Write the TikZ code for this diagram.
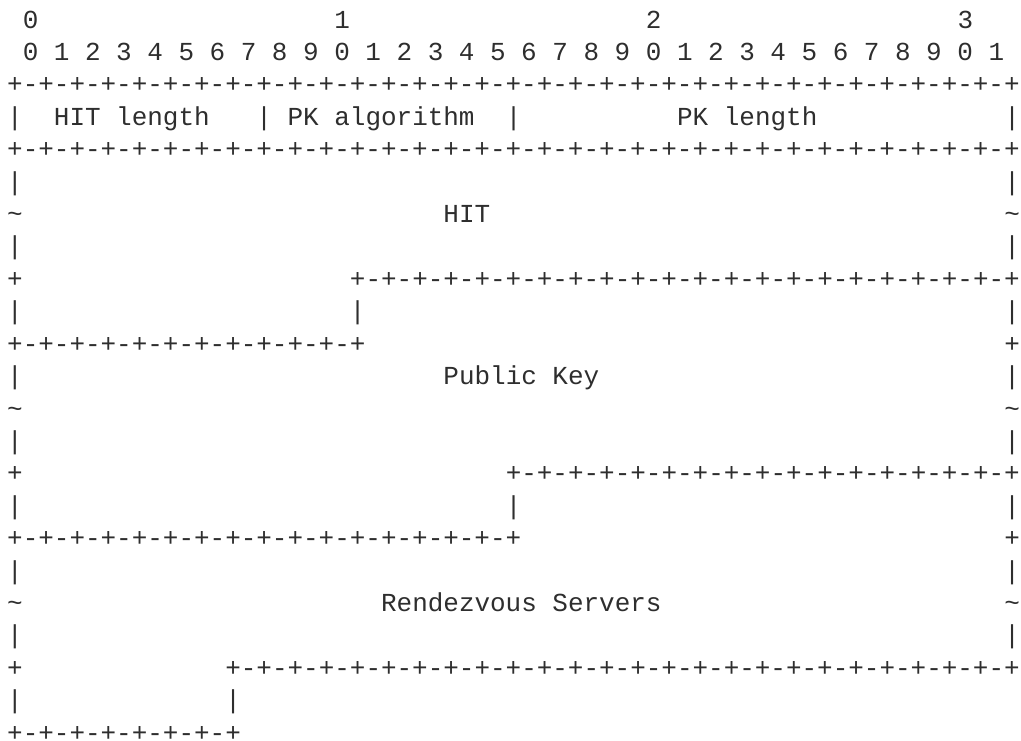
\documentclass[tikz,border=0pt]{standalone}
\usepackage{fontspec}
\usepackage{xcolor}
\usepackage{tikz}
\newfontfamily\asciifont[WordSpace={1,0,0}]{Liberation Mono}
\definecolor{ink}{HTML}{2E2E2E}

\begin{document}
\begin{tikzpicture}[
  x=11.685pt, y=24.3pt,
  ascii/.style={anchor=base west, inner sep=0pt, outer sep=0pt, text=ink,
    font=\asciifont\fontsize{19.47pt}{24.3pt}\selectfont}
]
\useasboundingbox[fill=white] (-0.462,0.87) rectangle (65.07,-21.97);

% bit numbering
\node[ascii] (tens0) at (1,0) {0};
\node[ascii] (tens1) at (21,0) {1};
\node[ascii] (tens2) at (41,0) {2};
\node[ascii] (tens3) at (61,0) {3};
\node[ascii] (bits) at (1,-1) {0 1 2 3 4 5 6 7 8 9 0 1 2 3 4 5 6 7 8 9 0 1 2 3 4 5 6 7 8 9 0 1};

% first word
\node[ascii] (top) at (0,-2) {+-+-+-+-+-+-+-+-+-+-+-+-+-+-+-+-+-+-+-+-+-+-+-+-+-+-+-+-+-+-+-+-+};
\node[ascii] (hdrl) at (0,-3) {|};
\node[ascii] (hitlen) at (3,-3) {HIT length};
\node[ascii] (hdra) at (16,-3) {|};
\node[ascii] (pkalg) at (18,-3) {PK algorithm};
\node[ascii] (hdrb) at (32,-3) {|};
\node[ascii] (pklen) at (43,-3) {PK length};
\node[ascii] (hdrr) at (64,-3) {|};
\node[ascii] (hdrbot) at (0,-4) {+-+-+-+-+-+-+-+-+-+-+-+-+-+-+-+-+-+-+-+-+-+-+-+-+-+-+-+-+-+-+-+-+};

% HIT
\node[ascii] (hitla) at (0,-5) {|};
\node[ascii] (hitra) at (64,-5) {|};
\node[ascii] (hitlb) at (0,-6) {\textasciitilde};
\node[ascii] (hit) at (28,-6) {HIT};
\node[ascii] (hitrb) at (64,-6) {\textasciitilde};
\node[ascii] (hitlc) at (0,-7) {|};
\node[ascii] (hitrc) at (64,-7) {|};
\node[ascii] (hitld) at (0,-8) {+};
\node[ascii] (hitend) at (22,-8) {+-+-+-+-+-+-+-+-+-+-+-+-+-+-+-+-+-+-+-+-+-+};
\node[ascii] (hitle) at (0,-9) {|};
\node[ascii] (hitme) at (22,-9) {|};
\node[ascii] (hitre) at (64,-9) {|};
\node[ascii] (pkbeg) at (0,-10) {+-+-+-+-+-+-+-+-+-+-+-+};
\node[ascii] (pkra) at (64,-10) {+};

% Public Key
\node[ascii] (pkla) at (0,-11) {|};
\node[ascii] (pubkey) at (28,-11) {Public Key};
\node[ascii] (pkrb) at (64,-11) {|};
\node[ascii] (pklb) at (0,-12) {\textasciitilde};
\node[ascii] (pkrc) at (64,-12) {\textasciitilde};
\node[ascii] (pklc) at (0,-13) {|};
\node[ascii] (pkrd) at (64,-13) {|};
\node[ascii] (pkld) at (0,-14) {+};
\node[ascii] (pkend) at (32,-14) {+-+-+-+-+-+-+-+-+-+-+-+-+-+-+-+-+};
\node[ascii] (pkle) at (0,-15) {|};
\node[ascii] (pkme) at (32,-15) {|};
\node[ascii] (pkre) at (64,-15) {|};
\node[ascii] (rvsbeg) at (0,-16) {+-+-+-+-+-+-+-+-+-+-+-+-+-+-+-+-+};
\node[ascii] (rvsra) at (64,-16) {+};

% Rendezvous Servers
\node[ascii] (rvsla) at (0,-17) {|};
\node[ascii] (rvsrb) at (64,-17) {|};
\node[ascii] (rvslb) at (0,-18) {\textasciitilde};
\node[ascii] (rvs) at (24,-18) {Rendezvous Servers};
\node[ascii] (rvsrc) at (64,-18) {\textasciitilde};
\node[ascii] (rvslc) at (0,-19) {|};
\node[ascii] (rvsrd) at (64,-19) {|};
\node[ascii] (rvsld) at (0,-20) {+};
\node[ascii] (rvsend) at (14,-20) {+-+-+-+-+-+-+-+-+-+-+-+-+-+-+-+-+-+-+-+-+-+-+-+-+-+};
\node[ascii] (rvsle) at (0,-21) {|};
\node[ascii] (rvsme) at (14,-21) {|};
\node[ascii, text depth=0pt] (bottom) at (0,-22) {+-+-+-+-+-+-+-+};
\end{tikzpicture}
\end{document}
